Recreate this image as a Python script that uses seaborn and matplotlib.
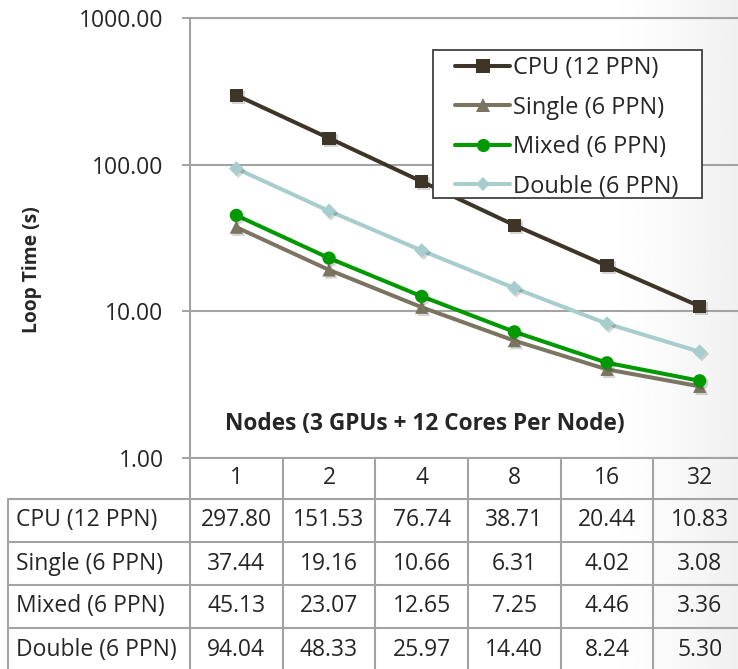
import numpy as np
import pandas as pd
import matplotlib
matplotlib.use("Agg")
import matplotlib.pyplot as plt
import matplotlib.patheffects as pe
import seaborn as sns
from matplotlib.lines import Line2D
from matplotlib.patches import Rectangle
from matplotlib.transforms import blended_transform_factory

# Loop time (s) per node count for each run configuration
nodes = ["1", "2", "4", "8", "16", "32"]
series_names = ["CPU (12 PPN)", "Single (6 PPN)", "Mixed (6 PPN)", "Double (6 PPN)"]
cpu = [297.80, 151.53, 76.74, 38.71, 20.44, 10.83]
single = [37.44, 19.16, 10.66, 6.31, 4.02, 3.08]
mixed = [45.13, 23.07, 12.65, 7.25, 4.46, 3.36]
double = [94.04, 48.33, 25.97, 14.40, 8.24, 5.30]
y_ticks = [1, 10, 100, 1000]

series_values = [cpu, single, mixed, double]
colors = ["#3d3528", "#7b7461", "#009a00", "#a8cdcd"]
markers = ["s", "^", "o", "D"]
marker_sizes = [9.5, 9.5, 9.5, 7.5]

sns.set_theme(style="white")
plt.rcParams['font.family'] = ['Open Sans', 'DejaVu Sans']

W, H = 738, 669
TXT = "#262626"
GRID = "#a3a3a3"
FS = 16.5


def fx(px):
    return px / W


def fy(py):
    return 1 - py / H


fig = plt.figure(figsize=(W / 100, H / 100), dpi=100)
fig.patch.set_facecolor("white")

# soft shading toward the right edge
bg = fig.add_axes([0, 0, 1, 1], zorder=-10)
xs = np.linspace(0, W, 400)
shade = np.clip((xs - 600) / (W - 600), 0, 1) ** 1.5
grad = np.tile(1 - 0.06 * shade, (10, 1))
bg.imshow(grad, aspect="auto", cmap="gray", vmin=0, vmax=1,
          extent=[0, 1, 0, 1], transform=bg.transAxes)
bg.set_axis_off()

ax = fig.add_axes([fx(190), fy(458), fx(746) - fx(190), fy(18) - fy(458)])
ax.set_facecolor("none")

df = pd.DataFrame({
    "pos": np.tile(np.arange(len(nodes)), len(series_names)),
    "time": np.concatenate(series_values),
    "series": np.repeat(series_names, len(nodes)),
})

marker_shadow = [pe.SimplePatchShadow(offset=(1.5, -1.5), shadow_rgbFace="k",
                                      alpha=0.18), pe.Normal()]
for k, (name, col, mk, ms) in enumerate(zip(series_names, colors, markers,
                                             marker_sizes)):
    sub = df[df["series"] == name]
    sns.lineplot(data=sub, x="pos", y="time", ax=ax, color=col,
                 linewidth=2.9, legend=False, zorder=3 + 2 * k)
    sns.scatterplot(data=sub, x="pos", y="time", ax=ax, color=col,
                    marker=mk, s=ms ** 2, linewidth=0, legend=False,
                    zorder=4 + 2 * k, path_effects=marker_shadow)

ax.set_yscale("log")
ax.set_ylim(y_ticks[0], y_ticks[-1])
ax.set_xlim(-0.5, len(nodes) - 0.5)
ax.set_yticks(y_ticks)
ax.set_yticklabels([f"{v:.2f}" for v in y_ticks])
ax.yaxis.set_minor_locator(matplotlib.ticker.NullLocator())
ax.set_xticks([])
ax.set_xlabel("")
ax.set_ylabel("")
ax.tick_params(axis="y", which="major", direction="out", length=6, width=1.4,
               color=GRID, pad=13, labelsize=FS, labelcolor=TXT, left=True)
ax.grid(axis="y", color=GRID, linewidth=1.5)
ax.grid(axis="x", visible=False)
ax.spines["right"].set_visible(False)
for side in ["left", "bottom", "top"]:
    ax.spines[side].set_color(GRID)
    ax.spines[side].set_linewidth(1.5)

fig.text(fx(425), fy(424), "Nodes (3 GPUs + 12 Cores Per Node)", ha="center",
         va="center", fontsize=16.3, fontweight="bold", color=TXT)
fig.text(fx(32), fy(270), "Loop Time (s)", ha="center", va="center",
         rotation=90, fontsize=13.9, fontweight="bold", color=TXT)

# legend: framed box with the entries laid out inside it
fig.add_artist(Rectangle((fx(433), fy(198)), fx(702) - fx(433),
                         fy(50) - fy(198), transform=fig.transFigure,
                         facecolor="white", edgecolor="#404040", lw=1.3,
                         zorder=20))
handles = [Line2D([], [], color=c, marker=m, markersize=ms, markeredgewidth=0,
                  linewidth=2.9)
           for c, m, ms in zip(colors, markers, marker_sizes)]
leg = fig.legend(handles, series_names, loc="upper left",
                 bbox_to_anchor=(fx(455), fy(56)), frameon=False,
                 fontsize=17, handlelength=2.33, handletextpad=0.13,
                 labelspacing=0.66, borderpad=0, borderaxespad=0)
leg.set_zorder(21)
for t in leg.get_texts():
    t.set_color(TXT)

# data table under the plot, columns aligned with the category positions
tr = blended_transform_factory(ax.transData, fig.transFigure)
row_edges = [458, 499, 542, 585, 628, 671]
left_px = 8
n = len(nodes)
for k in range(n + 1):
    ax.plot([k - 0.5, k - 0.5], [fy(458), fy(680)], color=GRID, lw=1.5,
            transform=tr, clip_on=False)
for r in row_edges[1:]:
    fig.add_artist(Line2D([fx(left_px), 1.02], [fy(r), fy(r)], color=GRID,
                          lw=1.5))
fig.add_artist(Line2D([fx(left_px), fx(left_px)], [fy(499), fy(680)],
                      color=GRID, lw=1.5))

for i, lab in enumerate(nodes):
    ax.text(i, fy((row_edges[0] + row_edges[1]) / 2), lab, transform=tr,
            ha="center", va="center", fontsize=FS, color=TXT)
for r, (name, vals) in enumerate(zip(series_names, series_values)):
    yc = fy((row_edges[r + 1] + row_edges[r + 2]) / 2)
    fig.text(fx(16), yc, name, ha="left", va="center", fontsize=FS, color=TXT)
    for i, v in enumerate(vals):
        ax.text(i, yc, f"{v:.2f}", transform=tr, ha="center", va="center",
                fontsize=FS, color=TXT)

fig.savefig("out.png", dpi=100)
